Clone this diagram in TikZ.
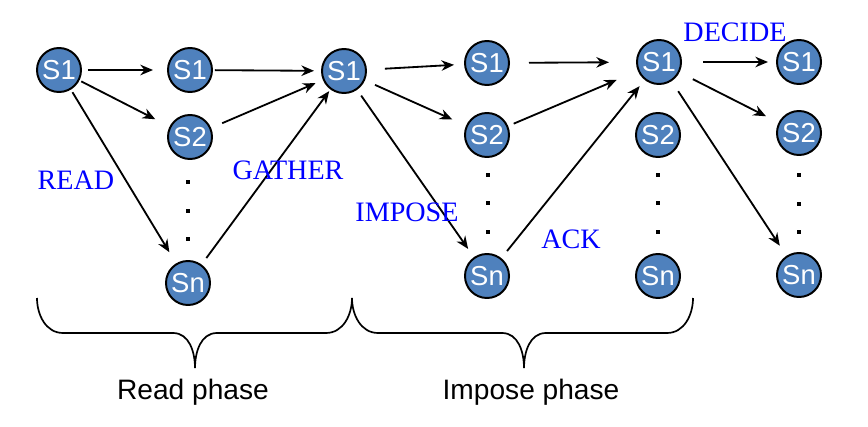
\documentclass[tikz,border=0pt]{standalone}
\usepackage{fontspec}
\setmainfont{Liberation Serif}
\setsansfont{Liberation Sans}
\usetikzlibrary{arrows.meta}
\definecolor{srvblue}{HTML}{4F81BD}
% three small dots between S2 and Sn
\newcommand{\dotcol}[4]{
\foreach \yy in {#2,#3,#4}
  \fill (#1-1.6,\yy-1.6) rectangle (#1+1.6,\yy+1.6);
}
% curly brace under a phase: left end, tip, right end
\newcommand{\phasebrace}[3]{
\draw[line width=1.2pt] (#1,298) to[out=-90,in=180] (#1+26,333) -- (#2-22,333)
  to[out=0,in=90] (#2,368) to[out=90,in=180] (#2+22,333) -- (#3-26,333)
  to[out=0,in=-90] (#3,298);
}
\tikzset{
  srv/.style={circle, draw=black, line width=1.4pt, fill=srvblue, text=white,
    minimum size=1.1cm, inner sep=0pt, font=\sffamily\fontsize{19.5}{19.5}\selectfont},
  msg/.style={-{Stealth[length=9pt,width=7.5pt]}, line width=1.3pt},
  step label/.style={text=blue, font=\fontsize{20}{20}\selectfont},
  phase label/.style={font=\sffamily\fontsize{20}{20}\selectfont}
}
\begin{document}
\begin{tikzpicture}[x=0.025cm, y=-0.025cm]
\useasboundingbox (0,0) rectangle (868,427);

\node[srv] (a1) at (59,70) {S1};

\node[srv] (b1) at (190,70) {S1};
\node[srv] (b2) at (190,137) {S2};
\node[srv] (bn) at (188,283) {Sn};
\dotcol{188}{182}{211}{239}

\node[srv] (c1) at (344,71) {S1};

\node[srv] (d1) at (487,63) {S1};
\node[srv] (d2) at (487,135) {S2};
\node[srv] (dn) at (487,276) {Sn};
\dotcol{488}{175}{203}{232}

\node[srv] (e1) at (659,62) {S1};
\node[srv] (e2) at (658,135) {S2};
\node[srv] (en) at (658,276) {Sn};
\dotcol{658}{175}{203}{232}

\node[srv] (f1) at (799,62) {S1};
\node[srv] (f2) at (799,133) {S2};
\node[srv] (fn) at (799,275) {Sn};
\dotcol{799}{175}{204}{232}

% read
\draw[msg, shorten <=0.15cm, shorten >=0.35cm] (a1) -- (b1);
\draw[msg, shorten <=0.05cm, shorten >=0.4cm] (a1) -- (b2);
\draw[msg, shorten <=0.075cm, shorten >=0.325cm] (a1) -- (bn);

% gather
\draw[msg, shorten <=0.05cm, shorten >=0.175cm] (b1) -- (c1);
\draw[msg, shorten <=0.3cm, shorten >=0.2cm] (b2) -- (c1);
\draw[msg, shorten <=0.2cm, shorten >=0.05cm] (bn) -- (c1);

% impose
\draw[msg, shorten <=0.45cm, shorten >=0.25cm] (c1) -- (d1);
\draw[msg, shorten <=0.275cm, shorten >=0.375cm] (c1) -- (d2);
\draw[msg, shorten <=0.175cm, shorten >=0.25cm] (c1) -- (dn);

% ack
\draw[msg, shorten <=0.475cm, shorten >=0.675cm] (d1) -- (e1);
\draw[msg, shorten <=0.15cm, shorten >=0.575cm] (d2) -- (e1);
\draw[msg, shorten <=0.225cm, shorten >=0.2cm] (dn) -- (e1);

% decide
\draw[msg, shorten <=0.525cm, shorten >=0.2cm] (e1) -- (f1);
\draw[msg, shorten <=0.375cm, shorten >=0.35cm] (e1) -- (f2);
\draw[msg, shorten <=0.3cm, shorten >=0.3cm] (e1) -- (fn);

\node[step label] (readlbl) at (76,180) {READ};
\node[step label] (gatherlbl) at (288,170) {GATHER};
\node[step label] (imposelbl) at (407,212) {IMPOSE};
\node[step label] (acklbl) at (571,239) {ACK};
\node[step label] (decidelbl) at (735,32) {DECIDE};

\phasebrace{37}{195}{352}
\phasebrace{352}{524}{693}

\node[phase label] (readph) at (193,392) {Read phase};
\node[phase label] (imposeph) at (531,392) {Impose phase};

\end{tikzpicture}
\end{document}
